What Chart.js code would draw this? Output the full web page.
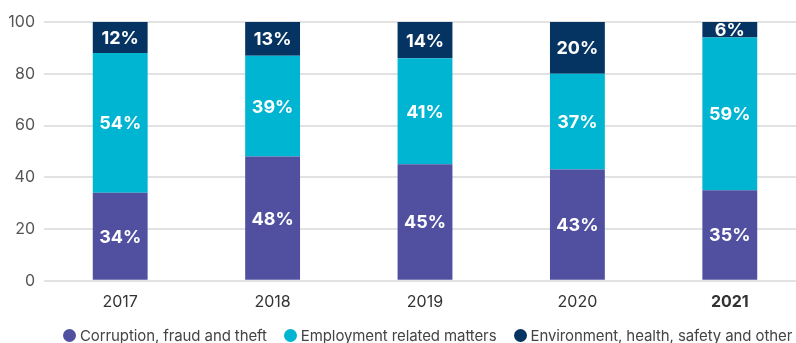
<!DOCTYPE html>
<html>
<head>
<meta charset="utf-8">
<script src="https://cdn.jsdelivr.net/npm/chart.js@4"></script>
<style>
  html, body { margin: 0; padding: 0; background: #fff; overflow: hidden; }
  #wrap { width: 808px; height: 343px; position: relative; }
  #legend {
    position: absolute; left: 63px; top: 327px; white-space: nowrap;
    font: 15px Inter, "Liberation Sans", Arial, sans-serif; color: #444; line-height: 18px;
    letter-spacing: -0.1px;
  }
  #legend span.item { display: inline-block; margin-right: 17px; }
  #legend i { display: inline-block; width: 13px; height: 13px; border-radius: 50%; margin-right: 4px; vertical-align: -1px; }
</style>
</head>
<body>
<div id="wrap"><canvas id="chart"></canvas><div id="legend"></div></div>
<script>
const years = ['2017', '2018', '2019', '2020', '2021'];
const seriesNames = ['Corruption, fraud and theft', 'Employment related matters', 'Environment, health, safety and other'];
const corruption = [34, 48, 45, 43, 35];
const employment = [54, 39, 41, 37, 59];
const environment = [12, 13, 14, 20, 6];
const yTicks = [0, 20, 40, 60, 80, 100];

const colors = {
  corruption: '#5150a0',
  employment: '#00b5d1',
  environment: '#063462',
  grid: '#e2e2e2',
};

const FONT = 'Inter, "Liberation Sans", Arial, sans-serif';

// percentage inside every segment
const segmentLabels = {
  id: 'segmentLabels',
  afterDatasetsDraw(chart) {
    const ctx = chart.ctx;
    ctx.save();
    ctx.fillStyle = '#fff';
    ctx.font = `bold 18px ${FONT}`;
    ctx.textAlign = 'center';
    ctx.textBaseline = 'middle';
    chart.data.datasets.forEach((ds, i) => {
      chart.getDatasetMeta(i).data.forEach((bar, j) => {
        const { x, y, base } = bar.getProps(['x', 'y', 'base'], true);
        ctx.fillText(ds.data[j] + '%', x, (y + base) / 2 + 1);
      });
    });
    ctx.restore();
  },
};

const chart = new Chart(document.getElementById('chart'), {
  type: 'bar',
  data: {
    labels: years,
    datasets: [
      { label: seriesNames[0], data: corruption, backgroundColor: colors.corruption },
      { label: seriesNames[1], data: employment, backgroundColor: colors.employment },
      { label: seriesNames[2], data: environment, backgroundColor: colors.environment },
    ],
  },
  options: {
    responsive: true,
    maintainAspectRatio: false,
    animation: false,
    layout: { padding: { top: 22, right: 2, left: 0, bottom: 27 } },
    datasets: { bar: { barPercentage: 0.36, categoryPercentage: 1, borderWidth: 0 } },
    plugins: {
      tooltip: { enabled: false },
      legend: { display: false },
    },
    scales: {
      x: {
        stacked: true,
        grid: { display: false },
        border: { display: false },
        ticks: {
          color: '#333',
          padding: 4,
          font: (c) => ({ family: FONT, size: 16, weight: c.index === 4 ? 'bold' : 'normal' }),
        },
      },
      y: {
        stacked: true,
        min: 0,
        max: 100,
        afterBuildTicks: (axis) => { axis.ticks = yTicks.map((v) => ({ value: v })); },
        afterFit: (axis) => { axis.width = 44; },
        grid: { color: colors.grid, lineWidth: 2, drawTicks: false },
        border: { display: false },
        ticks: { color: '#555', padding: 9, font: { family: FONT, size: 16 } },
      },
    },
  },
  plugins: [segmentLabels],
});

// legend as html, built from the datasets
const legendEl = document.getElementById('legend');
chart.data.datasets.forEach((ds) => {
  const item = document.createElement('span');
  item.className = 'item';
  const dot = document.createElement('i');
  dot.style.background = ds.backgroundColor;
  item.appendChild(dot);
  item.appendChild(document.createTextNode(ds.label));
  legendEl.appendChild(item);
});
</script>
</body>
</html>
